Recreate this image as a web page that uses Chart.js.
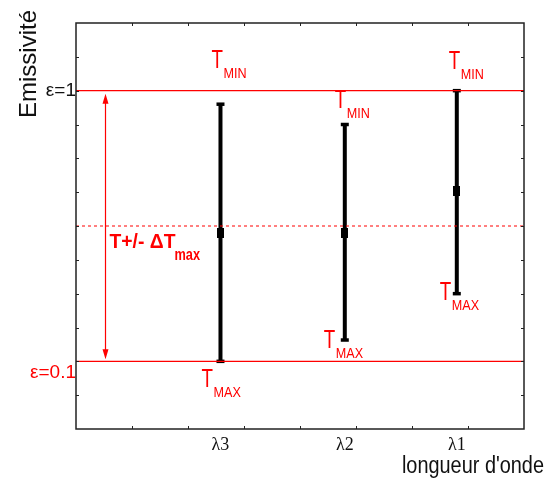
<!DOCTYPE html>
<html>
<head>
<meta charset="utf-8">
<script src="https://cdn.jsdelivr.net/npm/chart.js@4.4.1/dist/chart.umd.min.js"></script>
<style>
  html, body { margin: 0; padding: 0; background: #fff; }
</style>
</head>
<body>
<canvas id="chart" width="556" height="478"></canvas>
<script>
// data (y in tick units, 0..12 ; x in tick units, 0..8)
const categories = ['λ3', 'λ2', 'λ1'];
const xPositions = [2.58, 4.8, 6.8];
const tMinValues = [9.6, 9.0, 10.0];
const tMaxValues = [2.0, 2.63, 4.0];
const midValues = [5.8, 5.8, 7.03];
const epsLevels = [2, 10];
const epsLabels = [['', 'ε=0.1'], 'ε=1'];
const midLevel = 6;

const RED = '#ff0000';

// label placement: x offset from the bar (px) and baseline in y units
const notes = [
    { i: 0, sub: 'MIN', dx: -9, y: 10.66 },
    { i: 1, sub: 'MIN', dx: -10, y: 9.48 },
    { i: 2, sub: 'MIN', dx: -8, y: 10.63 },
    { i: 0, sub: 'MAX', dx: -19, y: 1.24 },
    { i: 1, sub: 'MAX', dx: -21, y: 2.39 },
    { i: 2, sub: 'MAX', dx: -17, y: 3.80 }
];

function squeezed(ctx, text, x, y, font, sx) {
    ctx.save();
    ctx.translate(x, y);
    ctx.scale(sx, 1);
    ctx.font = font;
    ctx.fillText(text, 0, 0);
    ctx.restore();
}

// middle marker: small upright rectangle
const marker = document.createElement('canvas');
marker.width = 7;
marker.height = 10;
marker.getContext('2d').fillRect(0, 0, 7, 10);

const hLine = (yv, dash, width) => ({
    type: 'line',
    data: [{ x: 0, y: yv }, { x: 8, y: yv }],
    borderColor: RED,
    borderWidth: width,
    borderDash: dash,
    pointRadius: 0
});

const datasets = [
    hLine(epsLevels[1], [], 1.3),
    hLine(epsLevels[0], [], 1.3),
    hLine(midLevel, [3, 3], 1)
];

categories.forEach((c, i) => {
    datasets.push({
        type: 'line',
        label: c,
        data: [{ x: xPositions[i], y: tMaxValues[i] }, { x: xPositions[i], y: tMinValues[i] }],
        borderColor: '#000',
        borderWidth: 4,
        pointStyle: 'line',
        pointRadius: 4,
        pointBorderWidth: 3.5,
        pointBorderColor: '#000'
    });
});

datasets.push({
    type: 'scatter',
    data: xPositions.map((x, i) => ({ x: x, y: midValues[i] })),
    pointStyle: marker,
    pointRadius: 5
});

const decorations = {
    id: 'decorations',
    afterDraw(chart) {
        const { ctx, chartArea: a, scales: { x, y } } = chart;
        ctx.save();

        // frame with inward ticks
        ctx.strokeStyle = '#222';
        ctx.lineWidth = 1.5;
        ctx.strokeRect(a.left, a.top, a.right - a.left, a.bottom - a.top);
        ctx.lineWidth = 1;
        ctx.beginPath();
        for (let v = 1; v < 8; v++) {
            const px = Math.round(x.getPixelForValue(v)) + 0.5;
            ctx.moveTo(px, a.bottom); ctx.lineTo(px, a.bottom - 3);
            ctx.moveTo(px, a.top); ctx.lineTo(px, a.top + 3);
        }
        for (let v = 1; v < 12; v++) {
            const py = Math.round(y.getPixelForValue(v)) + 0.5;
            ctx.moveTo(a.left, py); ctx.lineTo(a.left + 3, py);
            ctx.moveTo(a.right, py); ctx.lineTo(a.right - 3, py);
        }
        ctx.stroke();

        // double arrow between the two emissivity levels
        const ax = Math.round(x.getPixelForValue(0.52)) + 0.5;
        const yTop = y.getPixelForValue(epsLevels[1]);
        const yBot = y.getPixelForValue(epsLevels[0]);
        ctx.strokeStyle = RED;
        ctx.fillStyle = RED;
        ctx.lineWidth = 1.2;
        ctx.beginPath();
        ctx.moveTo(ax, yTop + 8);
        ctx.lineTo(ax, yBot - 8);
        ctx.stroke();
        ctx.beginPath();
        ctx.moveTo(ax, yTop + 3); ctx.lineTo(ax - 3, yTop + 13); ctx.lineTo(ax + 3, yTop + 13);
        ctx.closePath();
        ctx.moveTo(ax, yBot - 2); ctx.lineTo(ax - 3, yBot - 12); ctx.lineTo(ax + 3, yBot - 12);
        ctx.closePath();
        ctx.fill();

        // T+/- ΔTmax
        const ly = y.getPixelForValue(midLevel) + 22;
        squeezed(ctx, 'T+/- ΔT', ax + 4, ly, 'bold 21px "Liberation Sans", Arial, sans-serif', 0.92);
        squeezed(ctx, 'max', ax + 69, ly + 12, 'bold 17px "Liberation Sans", Arial, sans-serif', 0.75);

        // TMIN / TMAX labels
        notes.forEach(n => {
            const px = x.getPixelForValue(xPositions[n.i]) + n.dx;
            const py = y.getPixelForValue(n.y);
            squeezed(ctx, 'T', px, py, '25px "Liberation Sans", Arial, sans-serif', 0.75);
            squeezed(ctx, n.sub, px + 12, py + 10, '14px "Liberation Sans", Arial, sans-serif', 0.9);
        });

        // axis titles
        ctx.fillStyle = '#111';
        ctx.save();
        ctx.translate(a.left - 40, a.top + 41);
        ctx.rotate(-Math.PI / 2);
        ctx.textAlign = 'center';
        ctx.font = '24px "Liberation Sans", Arial, sans-serif';
        ctx.fillText('Emissivité', 0, 0);
        ctx.restore();

        ctx.save();
        ctx.translate(a.right + 20, 473);
        ctx.scale(0.865, 1);
        ctx.textAlign = 'right';
        ctx.font = '23px "Liberation Sans", Arial, sans-serif';
        ctx.fillText("longueur d'onde", 0, 0);
        ctx.restore();

        ctx.restore();
    }
};

new Chart(document.getElementById('chart').getContext('2d'), {
    type: 'scatter',
    data: { datasets: datasets },
    plugins: [decorations],
    options: {
        responsive: false,
        animation: false,
        layout: { padding: { top: 23, right: 32, left: 0, bottom: 0 } },
        plugins: {
            legend: { display: false },
            tooltip: { enabled: false }
        },
        scales: {
            x: {
                type: 'linear',
                min: 0,
                max: 8,
                grid: { display: false, drawTicks: false },
                border: { display: false },
                afterBuildTicks: scale => {
                    scale.ticks = xPositions.map(v => ({ value: v }));
                },
                afterFit: scale => { scale.height = 49; },
                ticks: {
                    autoSkip: false,
                    maxRotation: 0,
                    padding: 5,
                    color: '#111',
                    font: { family: '"Liberation Serif", "Times New Roman", serif', size: 18 },
                    callback: (v, i) => categories[i]
                }
            },
            y: {
                type: 'linear',
                min: 0,
                max: 12,
                grid: { display: false, drawTicks: false },
                border: { display: false },
                afterBuildTicks: scale => {
                    scale.ticks = epsLevels.map(v => ({ value: v }));
                },
                afterFit: scale => { scale.width = 76; },
                ticks: {
                    autoSkip: false,
                    padding: 0,
                    color: ctx => (ctx.index === 0 ? RED : '#111'),
                    font: { family: '"Liberation Sans", Arial, sans-serif', size: 19 },
                    callback: (v, i) => epsLabels[i]
                }
            }
        }
    }
});
</script>
</body>
</html>
